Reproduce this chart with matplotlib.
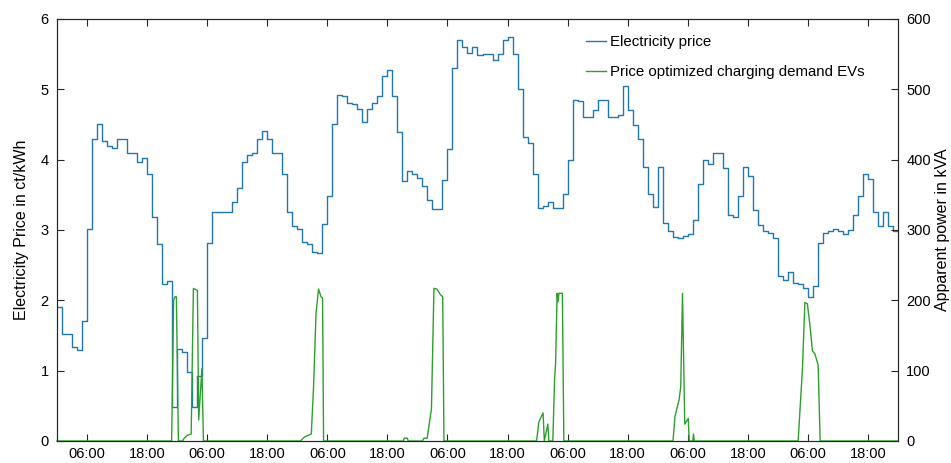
import matplotlib
matplotlib.use("Agg")
import matplotlib.pyplot as plt
import numpy as np

plt.rcParams["font.family"] = ["Liberation Sans", "DejaVu Sans"]

# hourly electricity price in ct/kWh, 7 days starting 00:00
price = [
    # day 1
    1.90, 1.52, 1.52, 1.34, 1.29, 1.71, 3.01, 4.30, 4.50, 4.26, 4.20, 4.16,
    4.30, 4.30, 4.10, 4.10, 3.97, 4.03, 3.80, 3.19, 2.80, 2.23, 2.27, 0.49,
    # day 2
    1.31, 1.26, 0.98, 0.49, 0.92, 1.47, 2.82, 3.25, 3.26, 3.25, 3.25, 3.40,
    3.60, 3.96, 4.07, 4.10, 4.30, 4.41, 4.30, 4.10, 4.10, 3.80, 3.26, 3.06,
    # day 3
    3.01, 2.83, 2.80, 2.69, 2.67, 3.09, 3.49, 4.51, 4.92, 4.90, 4.81, 4.79,
    4.72, 4.53, 4.72, 4.80, 4.90, 5.19, 5.27, 4.91, 4.40, 3.70, 3.84, 3.80,
    # day 4
    3.74, 3.63, 3.42, 3.30, 3.30, 3.71, 4.15, 5.31, 5.70, 5.60, 5.52, 5.60,
    5.49, 5.50, 5.50, 5.41, 5.50, 5.70, 5.75, 5.50, 5.00, 4.32, 4.24, 3.80,
    # day 5
    3.31, 3.34, 3.40, 3.31, 3.31, 3.51, 4.00, 4.85, 4.84, 4.60, 4.60, 4.70,
    4.85, 4.85, 4.60, 4.60, 4.64, 5.05, 4.71, 4.49, 4.30, 3.89, 3.51, 3.32,
    # day 6
    3.90, 3.10, 2.99, 2.90, 2.89, 2.91, 2.94, 3.14, 3.65, 4.00, 3.94, 4.10,
    4.10, 3.88, 3.22, 3.19, 3.48, 3.90, 3.77, 3.29, 3.07, 2.99, 2.96, 2.89,
    # day 7
    2.34, 2.29, 2.40, 2.24, 2.23, 2.17, 2.05, 2.20, 2.81, 2.96, 2.99, 3.01,
    2.98, 2.95, 3.00, 3.21, 3.48, 3.80, 3.72, 3.26, 3.05, 3.25, 3.05, 2.98,
]

# price optimized charging demand of the EVs (time in hours, power in kVA)
ev_time = [
    0, 22.9, 23.3, 23.55, 23.85, 24.25, 25.1, 25.3, 26.0, 26.8, 27.25, 28.05,
    28.3, 28.95, 29.25,
    48.6, 49.5, 50.8, 51.25, 51.75, 52.25, 52.75, 53.05, 53.25,
    69.2, 69.35, 70.0, 70.15,
    73.0, 73.3, 73.95, 74.8, 75.3, 75.9, 76.6, 77.05, 77.3,
    95.8, 96.25, 97.1, 97.35, 98.05, 98.25, 99.05, 99.4, 99.6, 99.9, 100.1,
    100.25, 100.95, 101.25,
    123.05, 123.45, 124.25, 124.6, 124.95, 125.4, 126.1, 126.3, 127.0, 127.15,
    127.3,
    148.05, 148.9, 149.4, 149.9, 150.45, 150.9, 151.4, 152.05, 152.45, 168,
]
ev_power = [
    0, 0, 200, 205, 205, 0, 0, 3, 8, 10, 217, 214,
    30, 103, 0,
    0, 6, 10, 77, 182, 216, 205, 203, 0,
    0, 4, 4, 0,
    0, 4, 4, 46, 217, 216, 208, 205, 0,
    0, 27, 40, 0, 24, 0, 0, 89, 110, 210, 198,
    210, 210, 0,
    0, 35, 58, 77, 210, 24, 32, 0, 0, 10,
    0,
    0, 101, 197, 195, 162, 128, 124, 108, 0, 0,
]

tick_hours = np.arange(6, 168, 12)
tick_labels = ["06:00", "18:00"] * 7

fs = 10.5
edge = "#262626"

fig = plt.figure(figsize=(9.51, 4.63), dpi=100)
ax = fig.add_axes([57 / 951, 22 / 463, 841 / 951, 422 / 463])
ax2 = ax.twinx()

hours = np.arange(len(price) + 1)
l1, = ax.step(hours, price + [price[-1]], where="post", color="#1f77b4",
              lw=1.0, label="Electricity price")
l2, = ax2.plot(ev_time, ev_power, color="#2ca02c", lw=1.0, clip_on=False,
               label="Price optimized charging demand EVs")

ax.set_xlim(0, 168)
ax.set_ylim(0, 6)
ax2.set_ylim(0, 600)
ax.set_xticks(tick_hours)
ax.set_xticklabels(tick_labels)
ax.set_yticks(range(7))
ax2.set_yticks(range(0, 601, 100))

ax.tick_params(axis="x", direction="in", top=True, length=5, width=0.8,
               color=edge, labelsize=fs, pad=4)
ax.tick_params(axis="y", direction="in", length=5, width=0.8, color=edge,
               labelsize=fs, pad=6)
ax2.tick_params(axis="y", direction="in", length=5, width=0.8, color=edge,
                labelsize=fs, pad=6)
for a in (ax, ax2):
    for s in a.spines.values():
        s.set_color(edge)
        s.set_linewidth(0.8)

ax.set_ylabel("Electricity Price in ct/kWh", fontsize=11.5, labelpad=8)
ax2.set_ylabel("Apparent power in kVA", fontsize=11.5, labelpad=3)

ax2.legend(handles=[l1, l2], loc="upper left", bbox_to_anchor=(0.615, 0.99),
           frameon=False, fontsize=10.8, handlelength=1.3, handletextpad=0.3,
           labelspacing=1.08, borderaxespad=0.4)

fig.savefig("out.png", dpi=100)
